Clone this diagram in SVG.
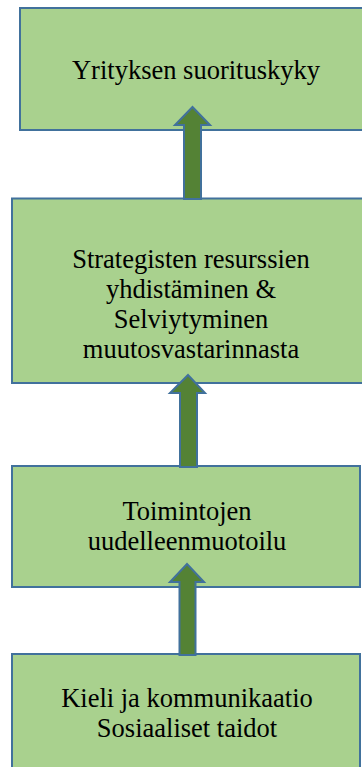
<svg xmlns="http://www.w3.org/2000/svg" width="362" height="767" viewBox="0 0 362 767">
<style>
.box{fill:#A9D18E;stroke:#41719C;stroke-width:2}
.arr{fill:#548235;stroke:#41719C;stroke-width:2;stroke-linejoin:miter}
text{font-family:"Liberation Serif","Times New Roman","DejaVu Serif",serif;font-size:26.5px;fill:#000;text-anchor:middle}
</style>
<rect width="362" height="767" fill="#fff"/>
<g id="n1">
<rect class="box" x="20" y="8" width="354" height="122"/>
<text x="196" y="79">Yrityksen suorituskyky</text>
</g>
<g id="n2">
<rect class="box" x="12" y="198.5" width="358" height="184.5"/>
<text x="191" y="268">Strategisten resurssien</text>
<text x="191" y="298">yhdistäminen &amp;</text>
<text x="191" y="328">Selviytyminen</text>
<text x="191" y="358">muutosvastarinnasta</text>
</g>
<g id="n3">
<rect class="box" x="12" y="466" width="348" height="121"/>
<text x="187" y="520">Toimintojen</text>
<text x="187" y="550">uudelleenmuotoilu</text>
</g>
<g id="n4">
<rect class="box" x="12" y="654" width="348" height="120"/>
<text x="187" y="707">Kieli ja kommunikaatio</text>
<text x="187" y="737">Sosiaaliset taidot</text>
</g>
<g id="connectors">
<path class="arr" d="M192.5,107 L210,125 L201,125 L201,199 L184,199 L184,125 L175,125 Z"/>
<path class="arr" d="M188,375 L205,393 L197,393 L197,467 L180,467 L180,393 L170,393 Z"/>
<path class="arr" d="M187,564 L204,582 L195.5,582 L195.5,655 L179.5,655 L179.5,582 L170,582 Z"/>
</g>
</svg>
